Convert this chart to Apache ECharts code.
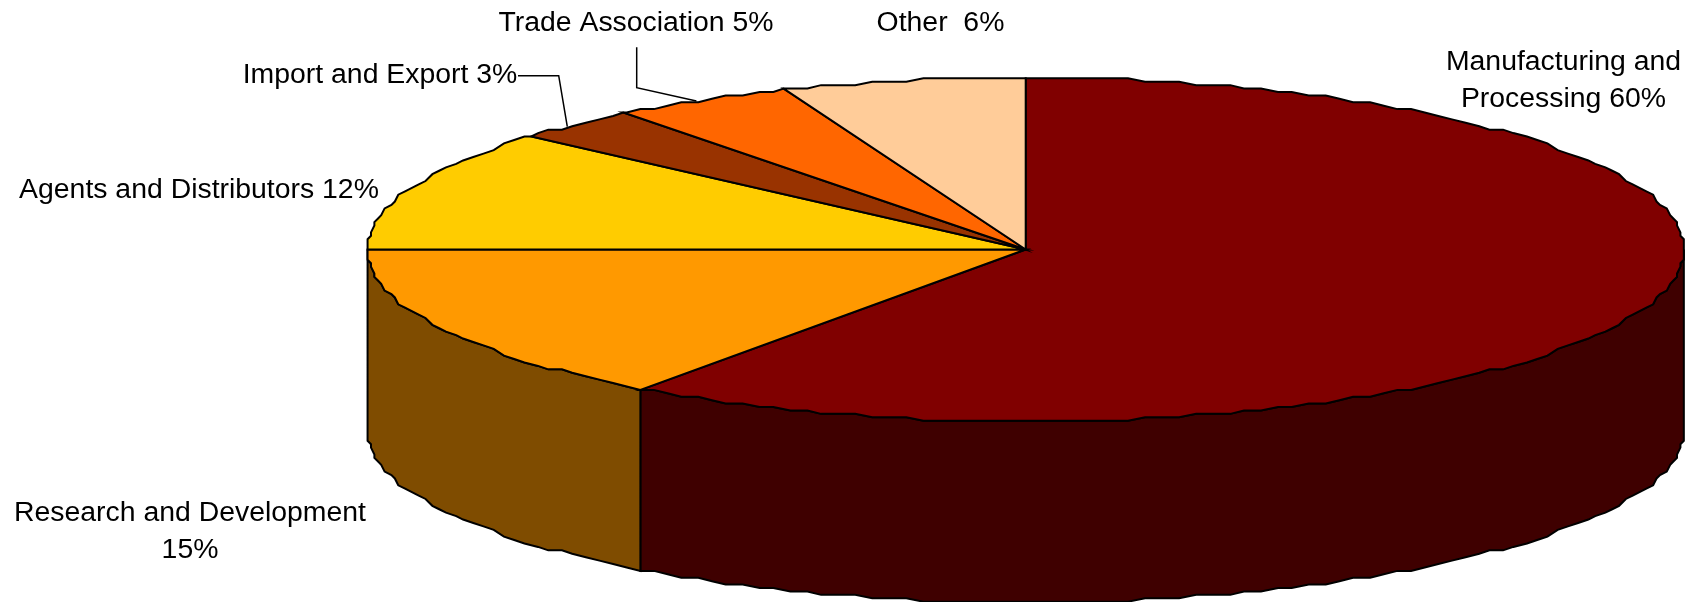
<!DOCTYPE html>
<html>
<head>
<meta charset="utf-8">
<style>html,body{margin:0;padding:0;background:#fff}#c{width:1685px;height:602px}</style>
<script src="https://cdn.jsdelivr.net/npm/echarts@6/dist/echarts.min.js"></script>
</head>
<body>
<div id="c"></div>
<script>
// Data, clockwise from 12 o'clock. Slice sizes; labels as printed.
var categories = ['Manufacturing and\nProcessing', 'Research and Development\n', 'Agents and Distributors', 'Import and Export', 'Trade Association', 'Other '];
var sliceValues = [60, 15, 11.5, 3, 4.5, 6];
var printedPercents = [60, 15, 12, 3, 5, 6];
var topColors = ['#800000', '#ff9900', '#ffcc00', '#993300', '#ff6600', '#ffcc99'];
var wallColors = ['#3f0000', '#7f4c00', '#7f6600', '#4c1900', '#7f3300', '#7f664c'];

// Layout of the pie and its labels, in pixels
var CX = 1025.7, CY = 249.5, RX = 658, RY = 171.8, DEPTH = 181, GX = 3.41, GY = 3.424, STEP = 1.5;
var labelCenters = [[1563.5, 81], [190, 532], [199, 190], [380, 75.5], [636, 23.5], [940.5, 23.5]];
var leaders = {
  3: [[518, 75.7], [558.7, 75.7], [567.3, 126.7]],
  4: [[636.7, 47.3], [636.7, 87.7], [696.4, 101]]
};
var total = sliceValues.reduce(function (a, b) { return a + b; }, 0);

function rim(deg, dy) {
  var a = deg * Math.PI / 180;
  return [
    CX + Math.round(RX * Math.sin(a) / GX) * GX,
    CY - Math.round(RY * Math.cos(a) / GY) * GY + dy
  ];
}
// Rim points on one shared angular lattice, so neighbouring slices meet exactly
function arc(from, to, dy) {
  var lo = Math.min(from, to), hi = Math.max(from, to), degs = [lo];
  for (var k = Math.ceil(lo / STEP + 1e-6); k * STEP < hi - 1e-6; k++) degs.push(k * STEP);
  degs.push(hi);
  if (from > to) degs.reverse();
  return degs.map(function (d) { return rim(d, dy); });
}

function renderItem(params, api) {
  var idx = params.dataIndex, start = 0;
  for (var i = 0; i < idx; i++) start += sliceValues[i];
  var a0 = start / total * 360, a1 = (start + api.value(0)) / total * 360;
  var children = [];
  var border = { stroke: '#000', lineWidth: 2, lineJoin: 'miter' };

  // front wall: only the part of the rim between 90 and 270 degrees faces the viewer
  var w0 = Math.max(a0, 90), w1 = Math.min(a1, 270);
  if (w1 > w0) {
    children.push({
      type: 'polygon', z2: 1,
      shape: { points: arc(w0, w1, 0).concat(arc(w1, w0, DEPTH)) },
      style: Object.assign({ fill: wallColors[idx] }, border)
    });
  }
  // top face
  children.push({
    type: 'polygon', z2: 2,
    shape: { points: [[CX, CY]].concat(arc(a0, a1, 0)) },
    style: Object.assign({ fill: topColors[idx] }, border)
  });
  // leader line
  if (leaders[idx]) {
    children.push({
      type: 'polyline', z2: 3,
      shape: { points: leaders[idx] },
      style: { fill: null, stroke: '#000', lineWidth: 1.5 }
    });
  }
  // label
  var c = labelCenters[idx];
  children.push({
    type: 'text', z2: 4, x: c[0], y: c[1],
    style: {
      text: categories[idx] + (categories[idx].slice(-1) === '\n' ? '' : ' ') + printedPercents[idx] + '%',
      fill: '#000', font: '28.4px "Liberation Sans"', lineHeight: 37,
      align: 'center', verticalAlign: 'middle'
    }
  });
  return { type: 'group', children: children };
}

var chart = echarts.init(document.getElementById('c'), null, { renderer: 'canvas' });
chart.setOption({
  animation: false,
  backgroundColor: '#fff',
  series: [{
    type: 'custom',
    coordinateSystem: 'none',
    renderItem: renderItem,
    silent: true,
    clip: false,
    data: sliceValues.map(function (v, i) { return { name: categories[i], value: [v] }; })
  }]
});
</script>
</body>
</html>
